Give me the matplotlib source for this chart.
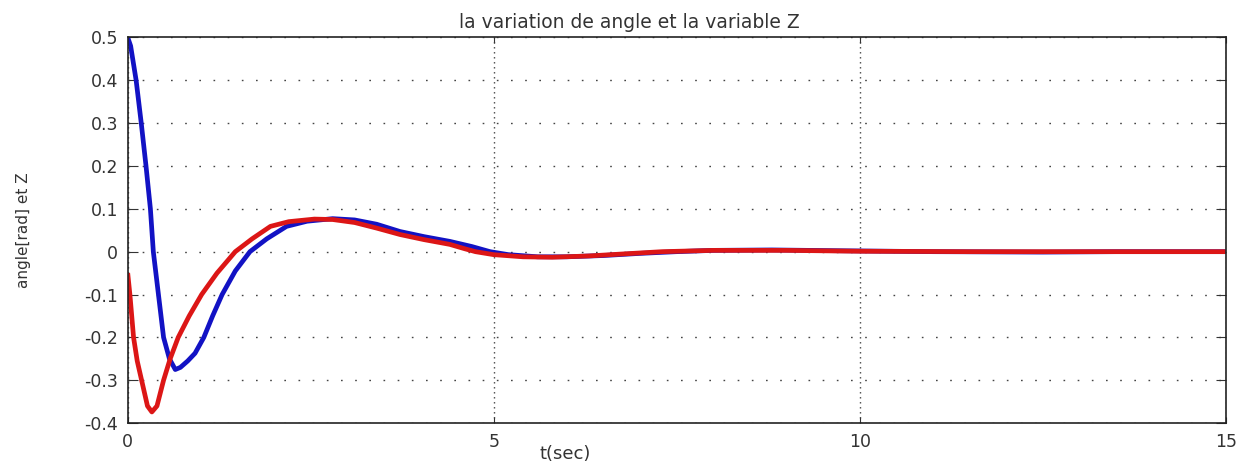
import matplotlib.pyplot as plt

# values
t_angle = [0, 0.04, 0.115, 0.185, 0.25, 0.31, 0.35, 0.42, 0.49, 0.57, 0.65, 0.72, 0.82,
           0.92, 1.04, 1.16, 1.29, 1.47, 1.67, 1.9, 2.17, 2.45, 2.8, 3.1, 3.4,
           3.72, 4.05, 4.4, 4.7, 4.95, 5.2, 5.6, 6.0, 6.5, 7.0, 7.5, 8.0, 8.8,
           9.8, 11, 12.5, 13.5, 15]
angle = [0.5, 0.48, 0.4, 0.3, 0.2, 0.1, 0.0, -0.1, -0.2, -0.25, -0.275, -0.27, -0.255,
         -0.237, -0.2, -0.15, -0.1, -0.045, 0.0, 0.03, 0.059, 0.071, 0.077, 0.074, 0.064,
         0.047, 0.035, 0.024, 0.012, 0.0, -0.007, -0.012, -0.012, -0.009, -0.004, 0.0, 0.003, 0.004,
         0.002, 0.0, -0.001, 0.0, 0.0]

t_z = [0, 0.03, 0.08, 0.13, 0.19, 0.27, 0.33, 0.4, 0.49, 0.58, 0.69, 0.84,
       1.01, 1.22, 1.47, 1.7, 1.95, 2.2, 2.55, 2.8, 3.1, 3.4, 3.72, 4.05,
       4.4, 4.6, 4.75, 5.0, 5.4, 5.8, 6.3, 6.8, 7.3, 8.0, 9.0, 10, 11.5,
       13, 15]
z = [-0.05, -0.1, -0.2, -0.255, -0.3, -0.36, -0.374, -0.36, -0.3, -0.25, -0.2, -0.15,
     -0.1, -0.05, 0.0, 0.03, 0.059, 0.07, 0.076, 0.075, 0.068, 0.055, 0.04, 0.028,
     0.017, 0.007, 0.0, -0.007, -0.012, -0.013, -0.01, -0.005, 0.0, 0.003, 0.003, 0.001, 0.0,
     0.0, 0.0]

x_ticks = [0, 5, 10, 15]
y_ticks = [-0.4, -0.3, -0.2, -0.1, 0, 0.1, 0.2, 0.3, 0.4, 0.5]
y_tick_labels = ["-0.4", "-0.3", "-0.2", "-0.1", "0", "0.1", "0.2", "0.3", "0.4", "0.5"]

plt.rcParams["font.family"] = ["DejaVu Sans"]

fig = plt.figure(figsize=(12.52, 4.67), dpi=100)
ax = fig.add_axes([0.102, 0.094, 0.877, 0.826])

ax.plot(t_angle, angle, color="#1212c4", lw=3.4, solid_joinstyle="round",
        solid_capstyle="butt")
ax.plot(t_z, z, color="#dc1616", lw=3.4, solid_joinstyle="round",
        solid_capstyle="butt")

ax.set_xlim(0, 15)
ax.set_ylim(-0.4, 0.5)
ax.set_xticks(x_ticks)
ax.set_yticks(y_ticks)
ax.set_yticklabels(y_tick_labels)
ax.tick_params(direction="in", top=True, right=True, width=0.8,
               labelsize=12.5, colors="#333333", pad=7)
ax.tick_params(axis="y", length=7)
ax.tick_params(axis="x", length=4)

# horizontal grid dots are spread wide, vertical ones tight
ax.yaxis.grid(True, color="#444444", linestyle=(0, (1.2, 9)), linewidth=1.0)
ax.xaxis.grid(True, color="#444444", linestyle=(0, (1, 2.6)), linewidth=1.0)
for s in ax.spines.values():
    s.set_linewidth(1.2)
    s.set_color("#222222")

ax.set_title("la variation de angle et la variable Z", fontsize=13.5,
             x=0.457, pad=7, color="#333333")
ax.set_xlabel("t(sec)", fontsize=13, color="#333333")
ax.xaxis.set_label_coords(0.398, -0.057)
ax.set_ylabel("angle[rad] et Z", fontsize=11, color="#333333")
ax.yaxis.set_label_coords(-0.088, 0.5)

fig.savefig("out.png", dpi=100)
